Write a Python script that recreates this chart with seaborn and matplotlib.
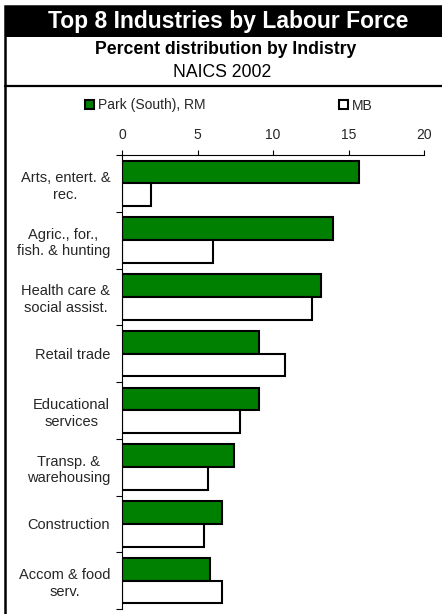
import matplotlib
matplotlib.use("Agg")
import matplotlib.pyplot as plt
import seaborn as sns
import pandas as pd
from matplotlib.patches import Rectangle
from matplotlib.lines import Line2D

categories = ["Arts, entert. &\nrec.", "Agric., for.,\nfish. & hunting",
              "Health care &\nsocial assist.", "Retail trade", "Educational\nservices",
              "Transp. &\nwarehousing", "Construction", "Accom & food\nserv."]
park_values = [15.7, 14.0, 13.2, 9.1, 9.1, 7.4, 6.6, 5.8]
mb_values = [1.9, 6.0, 12.6, 10.8, 7.8, 5.7, 5.4, 6.6]
series_names = ["Park (South), RM", "MB"]
x_ticks = [0, 5, 10, 15, 20]

df = pd.DataFrame({
    "Industry": categories * 2,
    "Percent": park_values + mb_values,
    "Series": [series_names[0]] * len(categories) + [series_names[1]] * len(categories),
})

sns.set_style("white")
plt.rcParams["font.family"] = ["Liberation Sans", "DejaVu Sans"]

W, H = 442, 614
fig = plt.figure(figsize=(W / 100, H / 100), dpi=100)
ax = fig.add_axes([122 / W, 1 - 609 / H, (424 - 122) / W, (609 - 155) / H])

sns.barplot(data=df, y="Industry", x="Percent", hue="Series", order=categories,
            hue_order=series_names, palette={series_names[0]: "#008000", series_names[1]: "#ffffff"},
            saturation=1, edgecolor="black", linewidth=1.5, width=0.8, ax=ax, orient="h")

handles, labels = ax.get_legend_handles_labels()
if ax.get_legend() is not None:
    ax.get_legend().remove()

ax.set_xlim(0, 20)
ax.set_xticks(x_ticks)
ax.set_xticklabels([str(t) for t in x_ticks])
ax.set_ylim(len(categories) - 0.5, -0.5)
ax.set_xlabel("")
ax.set_ylabel("")

ax.xaxis.tick_top()
ax.tick_params(axis="x", which="major", direction="out", length=3.5, width=0.8,
               color="black", labelsize=10, pad=6, top=True, bottom=False)
ax.set_yticks(range(len(categories)))
ax.set_yticklabels(categories, multialignment="center", linespacing=1.25)
ax.set_yticks([i - 0.5 for i in range(len(categories) + 1)], minor=True)
ax.tick_params(axis="y", which="major", length=0, labelsize=10.5, pad=8.5)
ax.tick_params(axis="y", which="minor", direction="out", length=4, width=0.8, color="black", left=True)

for side in ["right", "bottom"]:
    ax.spines[side].set_visible(False)
for side in ["top", "left"]:
    ax.spines[side].set_visible(True)
    ax.spines[side].set_color("black")
    ax.spines[side].set_linewidth(0.8)
ax.grid(False)

# Legends
leg_kw = dict(loc="center left", bbox_transform=fig.transFigure, frameon=False, fontsize=10,
              handlelength=0.65, handleheight=0.65, handletextpad=0.25, borderpad=0,
              borderaxespad=0)
leg1 = ax.legend([handles[0]], [labels[0]], bbox_to_anchor=(85 / W, 1 - 105.5 / H), **leg_kw)
ax.add_artist(leg1)
leg2 = ax.legend([handles[1]], [labels[1]], bbox_to_anchor=(339 / W, 1 - 105.5 / H), **leg_kw)

# Frame, banner and titles
fig.patches.append(Rectangle((4.5 / W, 1 - 36.5 / H), 1.0, 30.5 / H, transform=fig.transFigure,
                             facecolor="black", edgecolor="none", zorder=0))
fig.patches.append(Rectangle((4.5 / W, -0.05), 1.2, 1.05 - 6 / H, transform=fig.transFigure,
                             facecolor="none", edgecolor="black", linewidth=1.8, zorder=1))
fig.lines.append(Line2D([4.5 / W, 1.0], [1 - 86 / H, 1 - 86 / H], transform=fig.transFigure,
                        color="black", linewidth=1.6))

fig.text(228 / W, 1 - 21.5 / H, "Top 8 Industries by Labour Force", color="white",
         fontsize=16.5, fontweight="bold", ha="center", va="center")
fig.text(226 / W, 1 - 50 / H, "Percent distribution by Indistry", color="black",
         fontsize=12.7, fontweight="bold", ha="center", va="center")
fig.text(222 / W, 1 - 72.5 / H, "NAICS 2002", color="black",
         fontsize=12.7, ha="center", va="center")

fig.savefig("out.png", dpi=100)
